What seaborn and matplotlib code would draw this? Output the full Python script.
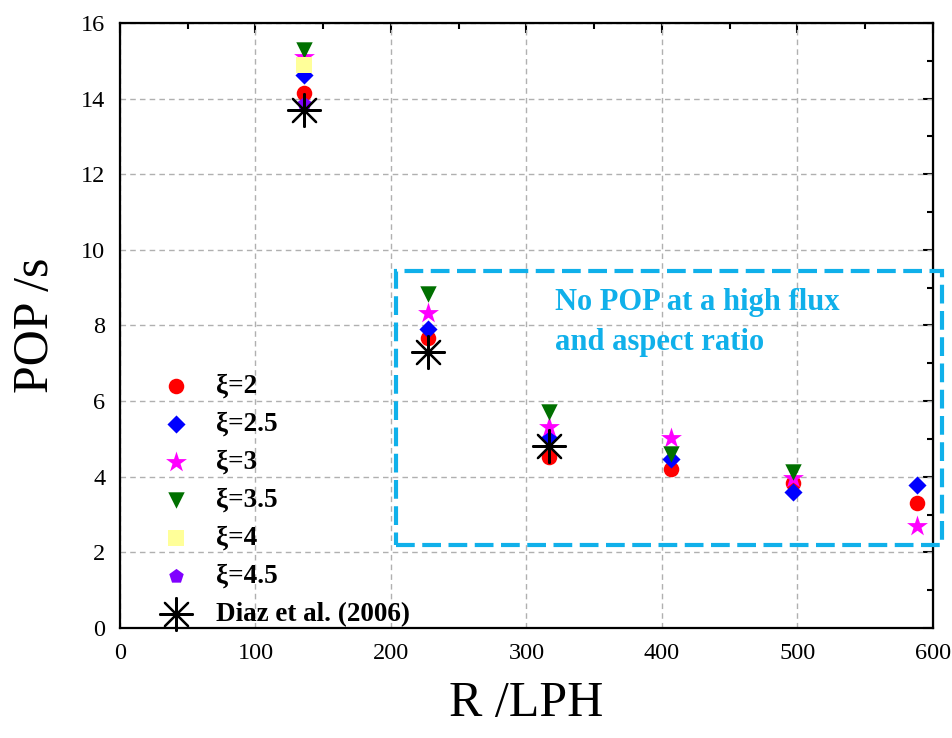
import numpy as np
import pandas as pd
import matplotlib
matplotlib.use("Agg")
import matplotlib.pyplot as plt
import seaborn as sns
from matplotlib.patches import Rectangle
from matplotlib.ticker import MultipleLocator

# flow rate R (LPH) for each measured point
r_lph = [136, 227, 317, 407, 497, 588]

# POP values per aspect ratio
pop_xi2 = [14.15, 7.66, 4.52, 4.2, 3.83, 3.31]
pop_xi25 = [14.63, 7.9, 5.02, 4.46, 3.6, 3.78]
pop_xi3 = [15.1, 8.32, 5.31, 5.02, 3.96, 2.7]
pop_xi35 = [15.29, 8.84, 5.71, 4.6, 4.12]
pop_xi4 = [14.88]
pop_xi45 = [13.85]
# Diaz et al. (2006) reference data
pop_diaz = [13.7, 7.31, 4.8]

series = [
    ("ξ=2", r_lph, pop_xi2, "o", "#ff0000", 125),
    ("ξ=2.5", r_lph, pop_xi25, "D", "#0000ff", 85),
    ("ξ=3", r_lph, pop_xi3, "*", "#ff00ff", 250),
    ("ξ=3.5", r_lph[:5], pop_xi35, "v", "#007000", 140),
    ("ξ=4", r_lph[:1], pop_xi4, "s", "#ffff99", 120),
    ("ξ=4.5", r_lph[:1], pop_xi45, "p", "#8000ff", 120),
]

sns.set_style("white")
plt.rcParams["font.family"] = ["Liberation Serif", "DejaVu Serif"]
plt.rcParams["text.color"] = "black"
plt.rcParams["axes.labelcolor"] = "black"
plt.rcParams["xtick.color"] = "black"
plt.rcParams["ytick.color"] = "black"

fig = plt.figure(figsize=(9.52, 7.38), dpi=100)
ax = fig.add_axes([0.126, 0.149, 0.854, 0.820])

for label, xs, ys, mk, col, size in series:
    df = pd.DataFrame({"R": xs, "POP": ys})
    sns.scatterplot(data=df, x="R", y="POP", marker=mk, color=col, s=size,
                    linewidth=0, edgecolor=col, label=label, ax=ax, zorder=3)

df_diaz = pd.DataFrame({"R": r_lph[:3], "POP": pop_diaz})
ax.scatter(df_diaz["R"], df_diaz["POP"], marker=(8, 2, 0), s=560,
           color="black", linewidths=1.6, label="Diaz et al. (2006)", zorder=4)

ax.set_xlim(0, 600)
ax.set_ylim(0, 16)
ax.xaxis.set_major_locator(MultipleLocator(100))
ax.xaxis.set_minor_locator(MultipleLocator(50))
ax.yaxis.set_major_locator(MultipleLocator(2))
ax.yaxis.set_minor_locator(MultipleLocator(1))
ax.grid(True, which="major", linestyle=(0, (4, 3)), color="#b0b0b0", linewidth=1)
ax.tick_params(which="major", direction="out", length=7, width=1.5, labelsize=17.5,
               colors="black")
ax.tick_params(which="minor", direction="out", length=4, width=1.5)
for sp in ax.spines.values():
    sp.set_linewidth(1.6)
    sp.set_color("black")

# top / right spines carry inward ticks without labels
top = ax.secondary_xaxis("top")
top.xaxis.set_major_locator(MultipleLocator(100))
top.xaxis.set_minor_locator(MultipleLocator(50))
top.tick_params(which="major", direction="in", length=7, width=1.5, labeltop=False)
top.tick_params(which="minor", direction="in", length=4, width=1.5)
right = ax.secondary_yaxis("right")
right.yaxis.set_major_locator(MultipleLocator(2))
right.yaxis.set_minor_locator(MultipleLocator(1))
right.tick_params(which="major", direction="in", length=7, width=1.5, labelright=False)
right.tick_params(which="minor", direction="in", length=4, width=1.5)

ax.set_xlabel("R /LPH", fontsize=36, labelpad=12, color="black")
ax.set_ylabel("POP /s", fontsize=36, labelpad=16, color="black")

# highlighted region
box = Rectangle((204, 2.2), 403, 7.24, fill=False, edgecolor="#10b0ea",
                linestyle=(0, (4.5, 1.8)), linewidth=3, clip_on=False, zorder=5)
ax.add_patch(box)
ax.text(321, 9.0, "No POP at a high flux\nand aspect ratio", color="#10b0ea",
        fontsize=22, fontweight="bold", ha="left", va="top", linespacing=1.5)

leg = ax.legend(loc="upper left", bbox_to_anchor=(0.022, 0.438), frameon=False,
                prop={"size": 19.5, "weight": "bold"}, labelspacing=0.48,
                handletextpad=0.5, borderaxespad=0)
for t in leg.get_texts():
    t.set_color("black")

fig.savefig("out.png", dpi=100)
